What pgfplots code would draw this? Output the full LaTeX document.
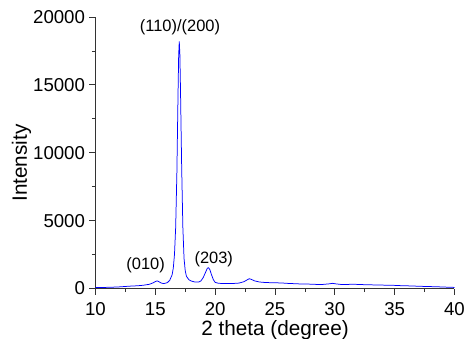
\documentclass[border=0pt]{standalone}
\usepackage{fontspec}
\setmainfont{Liberation Sans}
\usepackage{pgfplots}
\pgfplotsset{compat=1.18}
\begin{document}
\begin{tikzpicture}
\begin{axis}[
  name=ax,
  scale only axis,
  width=359bp, height=271.5bp,
  xmin=10, xmax=40, ymin=0, ymax=20000,
  axis x line=bottom, axis y line=left,
  axis line style={-, black!80, line width=0.8pt},
  xtick={10,15,...,40}, ytick={0,5000,...,20000},
  minor xtick={12.5,17.5,...,37.5}, minor ytick={2500,7500,...,17500},
  tick align=outside,
  major tick length=6bp, minor tick length=3.5bp,
  tick style={black!80, line width=0.8pt},
  scaled y ticks=false,
  /pgf/number format/assume math mode=true,
  /pgf/number format/1000 sep={},
  ticklabel style={font=\fontsize{18.7}{20}\selectfont},
  xticklabel style={inner sep=0pt, yshift=-7.5bp},
  yticklabel style={xshift=-1bp},
  xlabel={2 theta (degree)}, ylabel={Intensity},
  label style={font=\fontsize{20.8}{23}\selectfont, inner sep=0pt},
  xlabel style={at={(axis description cs:0.5,0)}, anchor=base, yshift=-46.5bp},
  ylabel style={at={(axis description cs:0,0.462)}, anchor=base, yshift=68.5bp},
  clip=false,
]
\addplot[blue, line width=0.75pt] coordinates {
(10,70) (10.5,75) (11,85) (11.5,100) (12,120) (12.5,150) (13,180) (13.5,200)
(14,240) (14.5,310) (14.8,410) (15.0,510) (15.15,560) (15.3,500) (15.5,400)
(15.7,360) (16.0,430) (16.2,600) (16.4,1000) (16.5,1500) (16.6,2500) (16.7,4500)
(16.8,8500) (16.9,14500) (16.95,17200) (17.0,18200) (17.05,17300) (17.1,14800)
(17.2,9000) (17.3,4500) (17.4,2200) (17.5,1300) (17.6,900) (17.8,650) (18.0,550)
(18.3,480) (18.6,470) (18.8,550) (19.0,800) (19.2,1200) (19.35,1500) (19.45,1530)
(19.55,1400) (19.7,1000) (19.85,650) (20.0,450) (20.3,380) (20.8,370) (21.5,370)
(22.0,400) (22.4,500) (22.7,650) (22.85,720) (23.0,680) (23.3,560) (23.7,480)
(24.2,440) (25,420) (25.5,410) (26,380) (26.5,360) (27,340) (27.5,330) (28,320)
(28.5,300) (29,300) (29.5,340) (29.8,380) (30.1,340) (30.5,300) (31,300)
(31.5,310) (32,300) (32.5,280) (33,270) (33.5,260) (34,250) (34.5,240) (35,230)
(35.5,210) (36,200) (36.5,180) (37,170) (37.5,150) (38,140) (38.5,130) (39,110)
(39.5,95) (40,80)
};
\node[font=\fontsize{16.5}{19}\selectfont] at (axis cs:17.06,19263) {(110)/(200)};
\node[font=\fontsize{16.5}{19}\selectfont] at (axis cs:14.19,1731) {(010)};
\node[font=\fontsize{16.5}{19}\selectfont] at (axis cs:19.88,2173) {(203)};
\end{axis}
\pgfresetboundingbox
\path ([shift={(-95.5bp,-50.5bp)}]ax.south west) rectangle ([shift={(14.5bp,17bp)}]ax.north east);
\end{tikzpicture}
\end{document}
